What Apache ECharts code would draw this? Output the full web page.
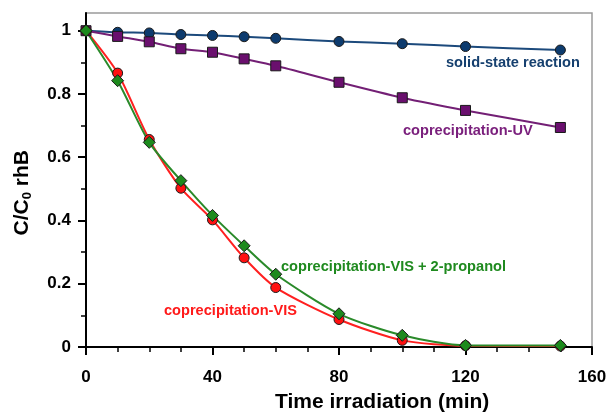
<!DOCTYPE html>
<html>
<head>
<meta charset="utf-8">
<script src="https://cdn.jsdelivr.net/npm/echarts@6/dist/echarts.min.js"></script>
<style>html,body{margin:0;padding:0;background:#fff}#c{width:610px;height:416px}</style>
</head>
<body>
<div id="c"></div>
<script>
const times = [0, 10, 20, 30, 40, 50, 60, 80, 100, 120, 150];
const solidState = [1.0, 0.995, 0.993, 0.988, 0.985, 0.981, 0.976, 0.966, 0.959, 0.950, 0.939];
const coprecUV = [1.0, 0.982, 0.965, 0.943, 0.932, 0.911, 0.889, 0.837, 0.788, 0.748, 0.694];
const coprecVIS = [1.0, 0.866, 0.656, 0.502, 0.402, 0.282, 0.188, 0.087, 0.021, 0.004, 0.003];
const coprecVISprop = [1.0, 0.842, 0.647, 0.526, 0.416, 0.320, 0.230, 0.105, 0.037, 0.005, 0.005];
const yMajorTicks = [0, 0.2, 0.4, 0.6, 0.8, 1];
const yMinorTicks = [0.1, 0.3, 0.5, 0.7, 0.9];
const seriesNames = ['solid-state reaction', 'coprecipitation-UV', 'coprecipitation-VIS', 'coprecipitation-VIS + 2-propanol'];

const pair = arr => times.map((t, i) => [t, arr[i]]);
const font = 'Liberation Sans, Arial, sans-serif';

const chart = echarts.init(document.getElementById('c'), null, {renderer: 'canvas'});
const mk = (name, data, color, line, symbol, size) => ({
  name, type: 'line', data: pair(data), smooth: 0.25,
  symbol, symbolSize: size,
  lineStyle: {color: line, width: 2},
  itemStyle: {color: color, borderColor: '#1a1a1a', borderWidth: 1},
  z: 3
});
chart.setOption({
  animation: false,
  grid: {left: 86, right: 18, top: 13, bottom: 69, show: true, borderColor: '#9a9a9a', borderWidth: 1.5},
  xAxis: {
    type: 'value', min: 0, max: 160, interval: 40,
    axisLine: {show: true, onZero: false, lineStyle: {color: '#000', width: 2}},
    axisTick: {show: true, inside: false, length: 8, lineStyle: {color: '#000', width: 2}},
    minorTick: {show: true, splitNumber: 4, length: 5, lineStyle: {color: '#000', width: 1.5}},
    splitLine: {show: false},
    axisLabel: {color: '#000', fontFamily: font, fontWeight: 'bold', fontSize: 17, margin: 22}
  },
  yAxis: [{
    type: 'value', min: 0, max: 1.056,
    axisLine: {show: true, lineStyle: {color: '#000', width: 2}},
    axisTick: {show: true, length: 8, customValues: yMajorTicks, lineStyle: {color: '#000', width: 2}},
    axisLabel: {color: '#000', fontFamily: font, fontWeight: 'bold', fontSize: 17, margin: 15,
      customValues: yMajorTicks, formatter: v => String(+v.toFixed(1))},
    splitLine: {show: false}
  }, {
    type: 'value', min: 0, max: 1.056, position: 'left',
    axisLine: {show: false},
    axisTick: {show: true, length: 5, customValues: yMinorTicks, lineStyle: {color: '#000', width: 1.5}},
    axisLabel: {show: false},
    splitLine: {show: false}
  }],
  series: [
    mk(seriesNames[0], solidState, '#0d3b6e', '#1c4a7c', 'circle', 10),
    mk(seriesNames[1], coprecUV, '#6a0f6e', '#731f75', 'rect', 10),
    mk(seriesNames[2], coprecVIS, '#ff1010', '#ff2020', 'circle', 10),
    mk(seriesNames[3], coprecVISprop, '#1d8a1d', '#2a8a2a', 'diamond', 12)
  ],
  graphic: [
    {type: 'text', left: 446, top: 55, style: {text: seriesNames[0], fill: '#16406f', font: 'bold 14.6px ' + font}},
    {type: 'text', left: 403, top: 123, style: {text: seriesNames[1], fill: '#7a1f7c', font: 'bold 14.6px ' + font}},
    {type: 'text', left: 281, top: 259, style: {text: seriesNames[3], fill: '#1f8a1f', font: 'bold 14.6px ' + font}},
    {type: 'text', left: 164, top: 303, style: {text: seriesNames[2], fill: '#ff1a1a', font: 'bold 14.6px ' + font}},
    {type: 'text', left: 275, top: 392, style: {text: 'Time irradiation (min)', fill: '#000', font: 'bold 21px ' + font}},
    {type: 'text', left: 12, top: 150, rotation: Math.PI / 2,
      style: {text: 'C/C{s|0} rhB', fill: '#000', font: 'bold 21px ' + font,
        rich: {s: {fontSize: 13, fontWeight: 'bold', fontFamily: font, verticalAlign: 'bottom', padding: [9, 0, 0, 0]}}}}
  ]
});
</script>
</body>
</html>
